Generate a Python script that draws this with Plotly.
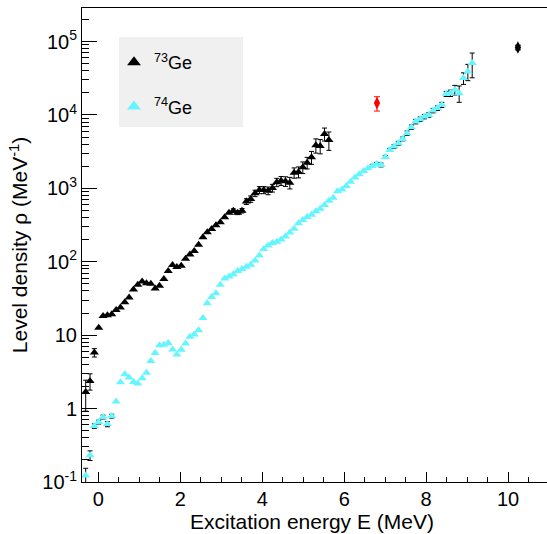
import plotly.graph_objects as go

# Excitation energy bins (MeV)
energy74 = [-0.31, -0.204, -0.098, 0.008, 0.114, 0.22, 0.326, 0.432, 0.538, 0.644,
            0.75, 0.856, 0.962, 1.068, 1.174, 1.28, 1.386, 1.492, 1.598, 1.704,
            1.81, 1.916, 2.022, 2.128, 2.234, 2.34, 2.446, 2.552, 2.658, 2.764,
            2.87, 2.976, 3.082, 3.188, 3.294, 3.4, 3.506, 3.612, 3.718, 3.824,
            3.93, 4.036, 4.142, 4.248, 4.354, 4.46, 4.566, 4.672, 4.778, 4.884,
            4.99, 5.096, 5.202, 5.308, 5.414, 5.52, 5.626, 5.732, 5.838, 5.944,
            6.05, 6.156, 6.262, 6.368, 6.474, 6.58, 6.686, 6.792, 6.898, 7.004,
            7.11, 7.216, 7.322, 7.428, 7.534, 7.64, 7.746, 7.852, 7.958, 8.064,
            8.17, 8.276, 8.382, 8.488, 8.594, 8.7, 8.806, 8.912, 9.018, 9.124]
energy73 = energy74[:57]

# 73Ge level density (MeV^-1)
rho73 = [1.68, 2.38, 5.8, 12.6, 18.2, 18.7, 19.3, 22.1, 23.9, 28.0,
         32.5, 41.8, 48.6, 54.0, 50.9, 50.0, 43.4, 47.1, 58.4, 74.7,
         90.2, 85.2, 88.5, 110, 126, 140, 171, 215, 252, 279,
         314, 345, 404, 467, 497, 467, 497, 663, 717, 857,
         951, 951, 931, 1012, 1211, 1274, 1250, 1197, 1637, 1674,
         1941, 2242, 2656, 3873, 3788, 5524, 4575]
rel_err73 = [0.45, 0.25, 0.13, 0.03, 0.02, 0.02, 0.02, 0.02, 0.02, 0.02,
             0.02, 0.02, 0.02, 0.02, 0.02, 0.02, 0.02, 0.02, 0.02, 0.02,
             0.02, 0.02, 0.02, 0.02, 0.02, 0.02, 0.02, 0.03, 0.03, 0.03,
             0.03, 0.03, 0.03, 0.04, 0.06, 0.06, 0.07, 0.09, 0.10, 0.10,
             0.11, 0.11, 0.12, 0.12, 0.13, 0.14, 0.15, 0.18, 0.16, 0.17,
             0.18, 0.18, 0.20, 0.22, 0.22, 0.20, 0.28]

# 74Ge level density (MeV^-1)
rho74 = [0.123, 0.231, 0.579, 0.656, 0.768, 0.615, 0.790, 1.246, 2.28, 2.94,
         2.65, 2.31, 2.19, 2.59, 3.08, 4.45, 5.74, 7.31, 7.42, 7.85,
         6.38, 5.45, 6.34, 7.71, 9.54, 10.2, 11.7, 17.2, 27.3, 33.0,
         37.4, 48.6, 59.0, 63.2, 67.5, 74.7, 79.5, 85.5, 91.3, 104,
         122, 149, 166, 180, 188, 201, 221, 250, 282, 334,
         371, 407, 438, 488, 527, 594, 679, 745, 913, 966,
         1079, 1234, 1409, 1563, 1727, 1880, 2022, 2153, 2085, 2681,
         3342, 3707, 4124, 4722, 5649, 6822, 8128, 8770, 9510, 10020,
         11480, 12390, 13740, 19400, 19820, 21980, 19820, 31770, 39090, 50900]
rel_err74 = [0.25, 0.15, 0.07, 0.06, 0.06, 0.08, 0.06, 0.04, 0.03, 0.03,
             0.02, 0.02, 0.02, 0.02, 0.02, 0.02, 0.02, 0.02, 0.02, 0.02,
             0.02, 0.02, 0.02, 0.02, 0.02, 0.02, 0.02, 0.02, 0.02, 0.02,
             0.02, 0.02, 0.02, 0.02, 0.02, 0.02, 0.02, 0.02, 0.02, 0.02,
             0.02, 0.02, 0.02, 0.02, 0.02, 0.02, 0.02, 0.02, 0.02, 0.02,
             0.02, 0.02, 0.02, 0.02, 0.02, 0.02, 0.02, 0.03, 0.03, 0.03,
             0.03, 0.03, 0.03, 0.03, 0.04, 0.04, 0.05, 0.05, 0.06, 0.05,
             0.05, 0.06, 0.06, 0.06, 0.07, 0.07, 0.07, 0.07, 0.07, 0.07,
             0.07, 0.07, 0.08, 0.08, 0.10, 0.15, 0.25, 0.18, 0.25, 0.37]

# Neutron-resonance (Bn) points
bn_red_e = [6.80]
bn_red_rho = [14500]
bn_red_err = [3200]
bn_black_e = [10.24]
bn_black_rho = [83100]
bn_black_err = [6000]

ytick_vals = [0.1, 1, 10, 100, 1000, 10000, 100000]
ytick_text = ["10<sup>-1</sup>", "1", "10", "10<sup>2</sup>", "10<sup>3</sup>",
              "10<sup>4</sup>", "10<sup>5</sup>"]
xtick_vals = [0, 2, 4, 6, 8, 10]

FONT = "Liberation Sans, Arial, Helvetica, sans-serif"
CYAN = "rgb(100,245,255)"
SHOW_ERR = 0.05  # error bars smaller than this are hidden by the marker


def bar_subset(xs, ys, rel):
    idx = [i for i, r in enumerate(rel) if r >= SHOW_ERR]
    return ([xs[i] for i in idx], [ys[i] for i in idx],
            [ys[i] * rel[i] for i in idx])


fig = go.Figure()

# error bars (drawn underneath the markers)
for xs, ys, rel in [(energy73, rho73, rel_err73), (energy74, rho74, rel_err74)]:
    bx, by, be = bar_subset(xs, ys, rel)
    fig.add_trace(go.Scatter(
        x=bx, y=by, mode="markers", showlegend=False, hoverinfo="skip",
        marker=dict(size=1, color="rgba(0,0,0,0)"),
        error_y=dict(type="data", array=be, color="black", thickness=1, width=2.5),
    ))

fig.add_trace(go.Scatter(
    x=energy73, y=rho73, mode="markers", name="<sup>73</sup>Ge",
    legendgroup="a",
    marker=dict(symbol="triangle-up", size=8, color="black"),
))
fig.add_trace(go.Scatter(
    x=energy74, y=rho74, mode="markers", name="<sup>74</sup>Ge",
    legendgroup="b",
    marker=dict(symbol="triangle-up", size=8, color=CYAN),
))
fig.add_trace(go.Scatter(
    x=bn_red_e, y=bn_red_rho, mode="markers", showlegend=False,
    marker=dict(symbol="diamond-tall", size=9, color="red"),
    error_y=dict(type="data", array=bn_red_err, color="red", thickness=1, width=3),
))
fig.add_trace(go.Scatter(
    x=bn_black_e, y=bn_black_rho, mode="markers", showlegend=False,
    marker=dict(symbol="diamond-tall", size=9, color="black"),
    error_y=dict(type="data", array=bn_black_err, color="black", thickness=1, width=3),
))

# legend background box
fig.add_shape(type="rect", xref="paper", yref="paper",
              x0=(119 - 82) / 465, x1=(243 - 82) / 465,
              y0=(482 - 127) / 474, y1=(482 - 37) / 474,
              fillcolor="#f0f0f0", line=dict(width=0), layer="below")

# x-axis title
fig.add_annotation(text="Excitation energy E (MeV)", xref="paper", yref="paper",
                   x=(312 - 82) / 465, y=-(521 - 482) / 474, xanchor="center",
                   yanchor="middle", showarrow=False, font=dict(size=21, family=FONT))

fig.update_layout(
    width=547, height=534,
    margin=dict(l=82, r=0, t=8, b=52, autoexpand=False),
    paper_bgcolor="white", plot_bgcolor="white",
    font=dict(family=FONT, color="black", size=20),
    showlegend=True,
    legend=dict(x=(114 - 82) / 465, y=(482 - 44) / 474, xanchor="left", yanchor="top",
                bgcolor="rgba(0,0,0,0)", font=dict(size=18, family=FONT),
                tracegroupgap=18, traceorder="grouped", itemsizing="constant",
                itemwidth=30),
    xaxis=dict(range=[-0.40, 10.95], tickvals=xtick_vals, ticks="inside", ticklen=10,
               tickwidth=1, tickcolor="black", showline=True, linecolor="black",
               linewidth=1, mirror=True, showgrid=False, zeroline=False,
               automargin=False, ticklabelstandoff=-1,
               minor=dict(dtick=0.5, ticks="inside", ticklen=5, tickcolor="black",
                          showgrid=False),
               tickfont=dict(size=20)),
    yaxis=dict(type="log", range=[-1, 5.457], tickvals=ytick_vals, ticktext=ytick_text,
               ticks="inside", ticklen=15, tickwidth=1, tickcolor="black",
               showline=True, linecolor="black", linewidth=1, showgrid=False,
               zeroline=False, automargin=False,
               minor=dict(dtick="D1", ticks="inside", ticklen=7, tickcolor="black",
                          showgrid=False),
               tickfont=dict(size=20),
               title=dict(text="Level density ρ (MeV<sup>-1</sup>)", font=dict(size=21),
                          standoff=8)),
)

fig.write_html("out.html", config={"displayModeBar": False},
               post_script="document.body.style.margin='0';document.body.style.overflow='hidden';")
